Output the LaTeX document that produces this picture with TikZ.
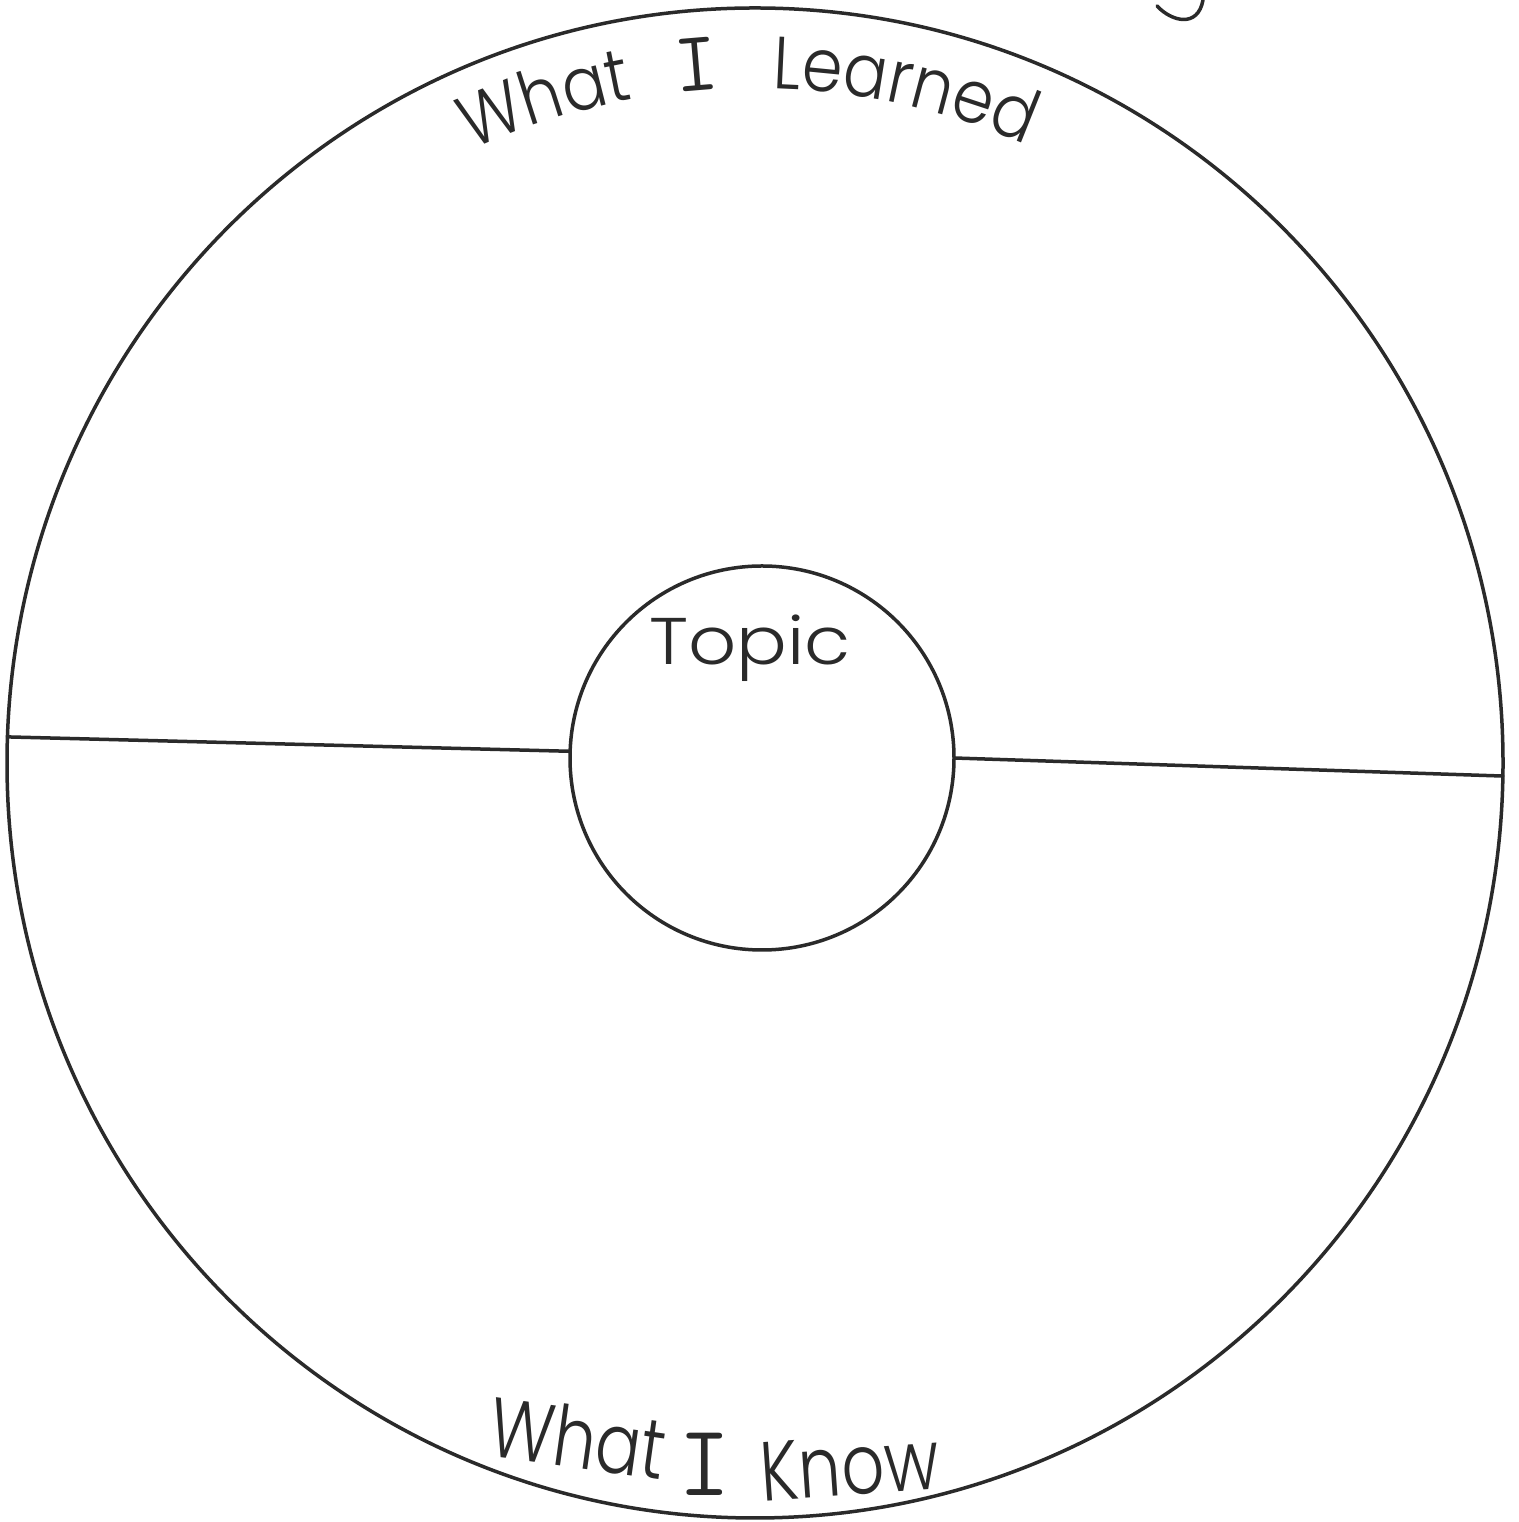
\documentclass[tikz,border=0pt]{standalone}
\usepackage{fontspec}
\newfontfamily\handtop{Poppins Light}[FakeStretch=0.88]
\newfontfamily\handlow{Poppins Light}[FakeStretch=0.8]
\newfontfamily\hand{Poppins Light}
\usetikzlibrary{shapes.geometric,decorations.text}
\definecolor{ink}{HTML}{2A2A2A}
\tikzset{
  pen/.style={draw=ink, line width=3.5pt, line cap=round, line join=round},
  label/.style={text=ink, inner sep=0pt},
  lowword/.style={label, font=\handlow\fontsize{84}{84}\selectfont, anchor=base},
  arcword/.style={decorate, decoration={text along path, text align=center,
    text={|\handtop\fontsize{74}{74}\selectfont\color{ink}|#1}}},
  arcbar/.style={decorate, decoration={text along path, text align=center,
    text={|\ttfamily\fontsize{86}{86}\selectfont\color{ink}|#1}}},
}
\begin{document}
\begin{tikzpicture}[x=1pt,y=1pt]
\useasboundingbox[fill=white] (0,0) rectangle (1518,1522);
% outer and inner circles
\node[pen, ellipse, minimum width=1496pt, minimum height=1510pt, inner sep=0pt, outer sep=0pt] (big) at (755,759) {};
\node[pen, circle, minimum size=384pt, inner sep=0pt, outer sep=0pt] (small) at (762,764) {};
\coordinate (c) at (755,759);
% dividing lines
\draw[pen] (big.178) -- (small.178);
\draw[pen] (small.0.3) -- (big.359.4);
% top curved label, word by word along an arc
\path[arcword={What}]    (c) ++(127.6:675) arc[start angle=127.6, end angle=87.6, radius=675];
\path[arcbar={I}]        (c) ++(104.8:675) arc[start angle=104.8, end angle=84.8, radius=675];
\path[arcword={Learned}] (c) ++(102.4:675) arc[start angle=102.4, end angle=52.4, radius=675];
% bottom label
\node[lowword, rotate=-8] (what) at (574,54) {What};
\node[label, font=\ttfamily\fontsize{102}{102}\selectfont, anchor=base] (i) at (705,26) {I};
\node[lowword, rotate=4] (know) at (852,27) {Know};
% centre label
\node[label, font=\hand\fontsize{66}{66}\selectfont, anchor=base, xscale=1.14] (topic) at (750,857) {Topic};
% fragment of a cut-off letter at the top edge
\draw[pen] (1157,1516) .. controls (1172,1500) and (1198,1494) .. (1203,1522);
\end{tikzpicture}
\end{document}
